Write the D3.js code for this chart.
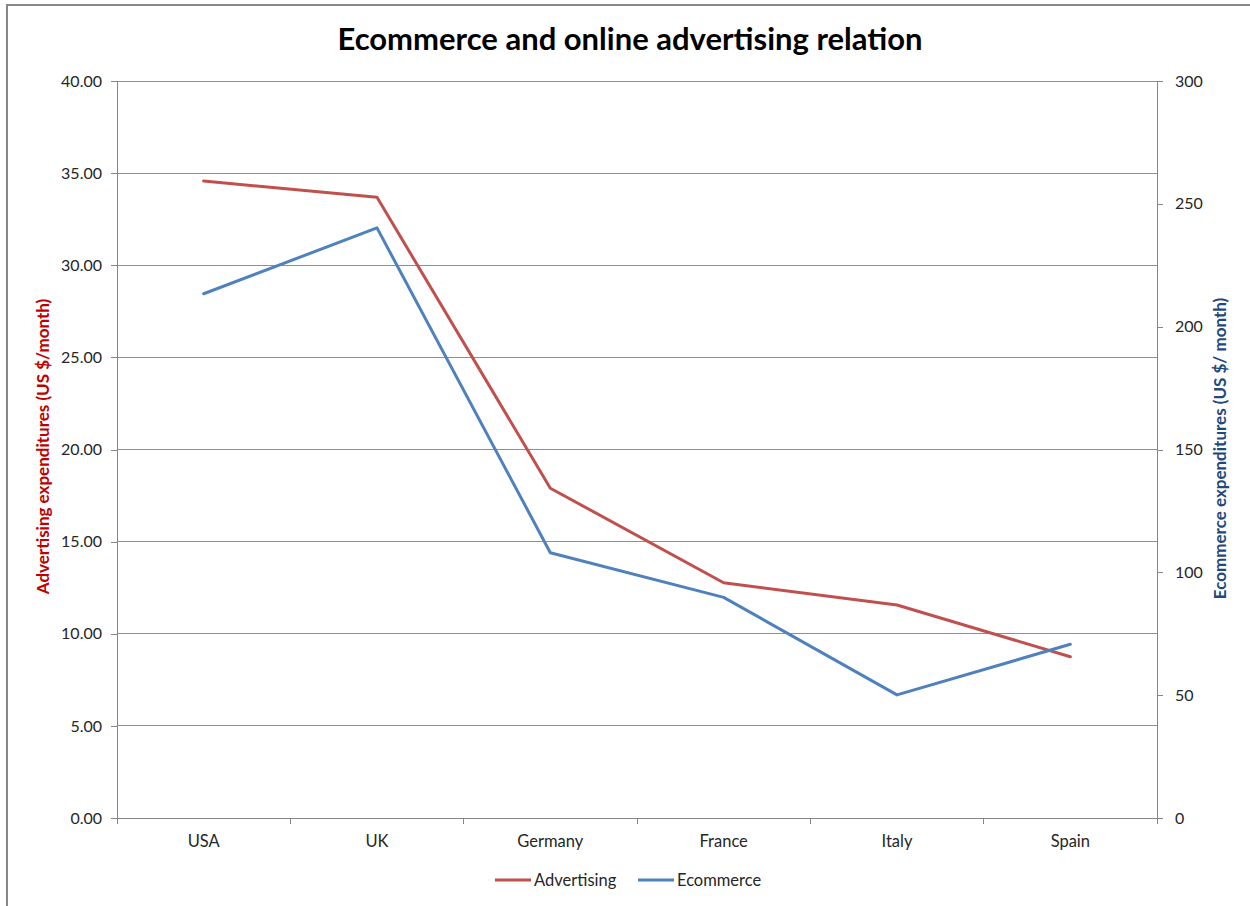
<!DOCTYPE html>
<html>
<head>
<meta charset="utf-8">
<script src="https://cdn.jsdelivr.net/npm/d3@7"></script>
<style>
  html, body { margin: 0; padding: 0; background: #fff; }
  svg { display: block; }
  text { font-family: Lato, "Open Sans", sans-serif; }
</style>
</head>
<body>
<svg id="chart" width="1250" height="906"></svg>
<script>
// Monthly spend per country
const countries = ["USA", "UK", "Germany", "France", "Italy", "Spain"];
const advertising = [34.57, 33.69, 17.90, 12.77, 11.56, 8.75];   // US $/month
const ecommerce = [213.4, 240.2, 108.0, 89.8, 50.1, 70.7];       // US $/month
const leftTicks = [0, 5, 10, 15, 20, 25, 30, 35, 40];
const rightTicks = [0, 50, 100, 150, 200, 250, 300];
const seriesNames = ["Advertising", "Ecommerce"];

const svg = d3.select("#chart");
const W = 1250, H = 906;
const plot = { left: 117, right: 1157, top: 81, bottom: 818 };
const gridColor = "#8f8f8f";
const axisColor = "#868686";
const redColor = "#C0504D";
const blueColor = "#4F81BD";

// outer chart frame
svg.append("rect")
  .attr("x", 7).attr("y", 5)
  .attr("width", W + 20).attr("height", H + 20)
  .attr("fill", "#fff")
  .attr("stroke", "#878787").attr("stroke-width", 2);

const x = d3.scaleBand().domain(countries).range([plot.left, plot.right]).padding(0);
const yL = d3.scaleLinear().domain([0, 40]).range([plot.bottom, plot.top]);
const yR = d3.scaleLinear().domain([0, 300]).range([plot.bottom, plot.top]);

// horizontal gridlines
svg.append("g").selectAll("line")
  .data(leftTicks.filter(d => d > 0))
  .join("line")
  .attr("x1", plot.left).attr("x2", plot.right)
  .attr("y1", d => yL(d)).attr("y2", d => yL(d))
  .attr("stroke", gridColor).attr("stroke-width", 1)
  .attr("shape-rendering", "crispEdges");

// left axis
const gL = svg.append("g")
  .attr("transform", `translate(${plot.left},0)`)
  .call(d3.axisLeft(yL).tickValues(leftTicks).tickFormat(d3.format(".2f")).tickSize(6).tickPadding(9));

// right axis
const gR = svg.append("g")
  .attr("transform", `translate(${plot.right},0)`)
  .call(d3.axisRight(yR).tickValues(rightTicks).tickFormat(d3.format("d")).tickSize(6).tickPadding(12));

// bottom axis: ticks sit at category boundaries
const boundaries = countries.map(c => x(c)).concat([plot.right]);
const gB = svg.append("g")
  .attr("transform", `translate(0,${plot.bottom})`);
gB.append("line")
  .attr("x1", plot.left).attr("x2", plot.right)
  .attr("stroke", axisColor).attr("stroke-width", 1)
  .attr("shape-rendering", "crispEdges");
gB.selectAll("line.tick")
  .data(boundaries)
  .join("line").attr("class", "tick")
  .attr("x1", d => d).attr("x2", d => d)
  .attr("y1", 0).attr("y2", 6)
  .attr("stroke", axisColor)
  .attr("shape-rendering", "crispEdges");
gB.selectAll("text")
  .data(countries)
  .join("text")
  .attr("x", d => x(d) + x.bandwidth() / 2)
  .attr("y", 29)
  .attr("text-anchor", "middle")
  .attr("font-size", 16.5)
  .attr("fill", "#262626")
  .text(d => d);

[gL, gR].forEach(g => {
  g.select(".domain").attr("stroke", axisColor).attr("shape-rendering", "crispEdges")
    .attr("d", `M0,${plot.top}V${plot.bottom}`);
  g.selectAll(".tick line").attr("stroke", axisColor).attr("shape-rendering", "crispEdges");
  g.selectAll(".tick text").attr("font-size", 16).attr("fill", "#262626")
    .attr("font-family", "Lato, 'Open Sans', sans-serif");
});
gR.selectAll(".tick text").attr("text-anchor", "start");

// series lines
const lineL = d3.line().x((d, i) => x(countries[i]) + x.bandwidth() / 2).y(d => yL(d));
const lineR = d3.line().x((d, i) => x(countries[i]) + x.bandwidth() / 2).y(d => yR(d));

svg.append("path").datum(advertising)
  .attr("d", lineL).attr("fill", "none")
  .attr("stroke", redColor).attr("stroke-width", 3)
  .attr("stroke-linejoin", "round").attr("stroke-linecap", "round");

svg.append("path").datum(ecommerce)
  .attr("d", lineR).attr("fill", "none")
  .attr("stroke", blueColor).attr("stroke-width", 3)
  .attr("stroke-linejoin", "round").attr("stroke-linecap", "round");

// title
svg.append("text")
  .attr("x", 630).attr("y", 50)
  .attr("text-anchor", "middle")
  .attr("font-size", 31).attr("font-weight", "bold")
  .attr("fill", "#000")
  .text("Ecommerce and online advertising relation");

// axis titles
svg.append("text")
  .attr("transform", `translate(49,${(plot.top + plot.bottom) / 2 - 3}) rotate(-90)`)
  .attr("text-anchor", "middle")
  .attr("font-size", 17).attr("font-weight", "bold")
  .attr("fill", "#C00000")
  .text("Advertising expenditures (US $/month)");

svg.append("text")
  .attr("transform", `translate(1226,${(plot.top + plot.bottom) / 2 - 1}) rotate(-90)`)
  .attr("text-anchor", "middle")
  .attr("font-size", 17).attr("font-weight", "bold")
  .attr("fill", "#1F497D")
  .text("Ecommerce expenditures (US $/ month)");

// legend
const legend = svg.append("g").attr("transform", "translate(495,880)");
const legendItems = [
  { name: seriesNames[0], color: redColor, x: 0 },
  { name: seriesNames[1], color: blueColor, x: 143 }
];
const li = legend.selectAll("g").data(legendItems).join("g")
  .attr("transform", d => `translate(${d.x},0)`);
li.append("line")
  .attr("x1", 0).attr("x2", 36).attr("y1", 0).attr("y2", 0)
  .attr("stroke", d => d.color).attr("stroke-width", 3);
li.append("text")
  .attr("x", 39).attr("y", 6)
  .attr("font-size", 16.5).attr("fill", "#262626")
  .text(d => d.name);
</script>
</body>
</html>
